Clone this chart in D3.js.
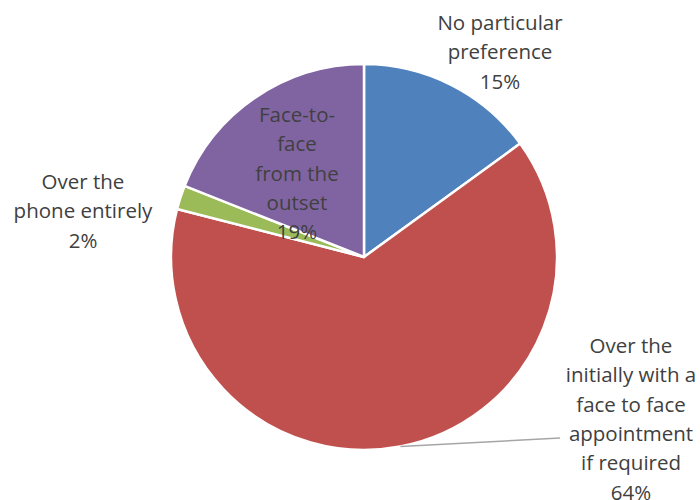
<!DOCTYPE html>
<meta charset="utf-8">
<style>
body { margin: 0; background: #fff; }
text { font-family: "Open Sans", "Noto Sans", sans-serif; fill: #404040; }
</style>
<body>
<script src="https://d3js.org/d3.v7.min.js"></script>
<script>

var width = 700,
    height = 500;

// slice data, clockwise from 12 o'clock
var categories = ["No particular preference", "Over the initially with a face to face appointment if required", "Over the phone entirely", "Face-to-face from the outset"];
var values = [15, 64, 2, 19];
var labelLines = [
  ["No particular", "preference"],
  ["Over the", "initially with a", "face to face", "appointment", "if required"],
  ["Over the", "phone entirely"],
  ["Face-to-", "face", "from the", "outset"]
];
var colors = ["#4F81BD", "#C0504D", "#9BBB59", "#8064A2"];

// where each label block is centred (first line y)
var labelPos = [
  {x: 500, y: 23},
  {x: 631, y: 346},
  {x: 83, y: 182},
  {x: 297, y: 115}
];

var cx = 364, cy = 257, r = 193;

var svg = d3.select("body").append("svg")
    .attr("width", width)
    .attr("height", height);

var pie = d3.pie().sort(null).value(function(d) { return d; });
var arc = d3.arc().innerRadius(0).outerRadius(r);
var total = d3.sum(values);
var pct = d3.format(".0%");

var g = svg.append("g").attr("transform", "translate(" + cx + "," + cy + ")");

g.selectAll("path")
    .data(pie(values))
    .enter().append("path")
    .attr("d", arc)
    .attr("fill", function(d, i) { return colors[i]; })
    .attr("stroke", "#fff")
    .attr("stroke-width", 2.5)
    .attr("stroke-linejoin", "round");

// leader line for the big slice
var la = Math.PI - 0.19;
svg.append("line")
    .attr("x1", cx + Math.sin(la) * r)
    .attr("y1", cy - Math.cos(la) * r)
    .attr("x2", 560)
    .attr("y2", 438)
    .attr("stroke", "#A6A6A6")
    .attr("stroke-width", 1.5);

var lineH = 29.3;
labelLines.forEach(function(lines, i) {
  var t = svg.append("text")
      .attr("text-anchor", "middle")
      .attr("font-size", 20.5);
  lines.concat([pct(values[i] / total)]).forEach(function(s, j) {
    t.append("tspan")
        .attr("x", labelPos[i].x)
        .attr("y", labelPos[i].y + j * lineH)
        .attr("dy", "0.35em")
        .text(s);
  });
});

</script>
